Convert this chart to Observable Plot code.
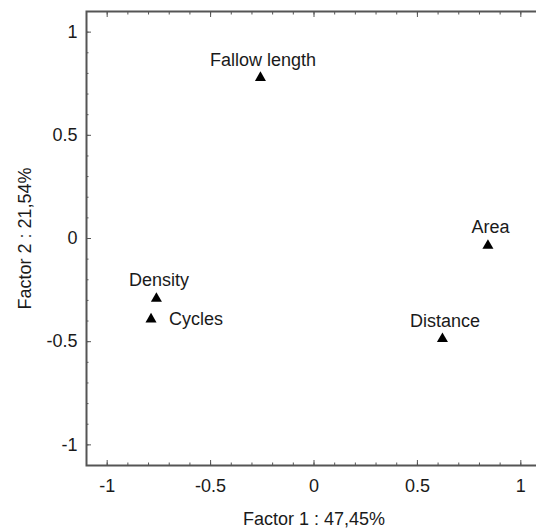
<!DOCTYPE html>
<html>
<head>
<meta charset="utf-8">
<script src="https://cdn.jsdelivr.net/npm/d3@7"></script>
<script src="https://cdn.jsdelivr.net/npm/@observablehq/plot@0.6"></script>
<style>
  html, body { margin: 0; padding: 0; background: #fff; overflow: hidden; }
  #chart { width: 536px; height: 528px; overflow: hidden; }
</style>
</head>
<body>
<div id="chart"></div>
<script>
// Variables (loadings on factors 1 and 2)
const names = ["Fallow length", "Area", "Distance", "Density", "Cycles"];
const factor1 = [-0.259, 0.841, 0.621, -0.762, -0.788];
const factor2 = [0.779, -0.034, -0.486, -0.291, -0.391];

// Axis ticks and titles
const majorTicks = [-1, -0.5, 0, 0.5, 1];
const minorTicks = [-1, -0.9, -0.8, -0.7, -0.6, -0.5, -0.4, -0.3, -0.2, -0.1, 0, 0.1, 0.2, 0.3, 0.4, 0.5, 0.6, 0.7, 0.8, 0.9, 1];
const xTitle = "Factor 1 : 47,45%";
const yTitle = "Factor 2 : 21,54%";
const rightLabeled = ["Cycles"];

const data = names.map((name, i) => ({name, f1: factor1[i], f2: factor2[i]}));
const fmt = d => String(d);
const axisColor = "#555";

const chart = Plot.plot({
  width: 536,
  height: 528,
  marginLeft: 86,
  marginTop: 11,
  marginBottom: 63,
  marginRight: -5,
  style: {fontFamily: "'Liberation Sans', Arial, sans-serif", fontSize: "18px", color: "#1a1a1a", background: "#fff", overflow: "visible"},
  x: {domain: [-1.1, 1.1], label: null},
  y: {domain: [-1.1, 1.1], label: null},
  marks: [
    // tick labels
    Plot.axisX({anchor: "bottom", ticks: majorTicks, tickSize: 0, tickPadding: 14, tickFormat: fmt, label: null, fill: "#1a1a1a"}),
    Plot.axisY({anchor: "left", ticks: majorTicks, tickSize: 0, tickPadding: 9, tickFormat: fmt, label: null, fill: "#1a1a1a"}),
    // inward tick marks
    Plot.axisX({anchor: "bottom", ticks: minorTicks, tickSize: -2.5, fill: "none", label: null, stroke: axisColor}),
    Plot.axisX({anchor: "bottom", ticks: majorTicks, tickSize: -5, fill: "none", label: null, stroke: axisColor}),
    Plot.axisX({anchor: "top", ticks: minorTicks, tickSize: -2.5, fill: "none", label: null, stroke: axisColor}),
    Plot.axisX({anchor: "top", ticks: majorTicks, tickSize: -5, fill: "none", label: null, stroke: axisColor}),
    Plot.axisY({anchor: "left", ticks: minorTicks, tickSize: -2.5, fill: "none", label: null, stroke: axisColor}),
    Plot.axisY({anchor: "left", ticks: majorTicks, tickSize: -5, fill: "none", label: null, stroke: axisColor}),
    Plot.axisY({anchor: "right", ticks: majorTicks, tickSize: -6, fill: "none", label: null, stroke: axisColor}),
    Plot.frame({stroke: axisColor, strokeWidth: 2}),
    // axis titles
    Plot.text([xTitle], {text: d => d, frameAnchor: "bottom", textAnchor: "middle", lineAnchor: "bottom", dy: 59, fill: "#1a1a1a"}),
    Plot.text([yTitle], {text: d => d, frameAnchor: "left", textAnchor: "middle", lineAnchor: "bottom", rotate: -90, dx: -56, fill: "#1a1a1a"}),
    // points
    Plot.dot(data, {x: "f1", y: "f2", symbol: "triangle", r: 4.1, fill: "#000", stroke: "none"}),
    // labels
    Plot.text(data.filter(d => !rightLabeled.includes(d.name)), {x: "f1", y: "f2", text: "name", dy: -18, dx: 2.5, fill: "#1a1a1a"}),
    Plot.text(data.filter(d => rightLabeled.includes(d.name)), {x: "f1", y: "f2", text: "name", textAnchor: "start", dx: 18, fill: "#1a1a1a"})
  ]
});
document.getElementById("chart").appendChild(chart);
</script>
</body>
</html>
